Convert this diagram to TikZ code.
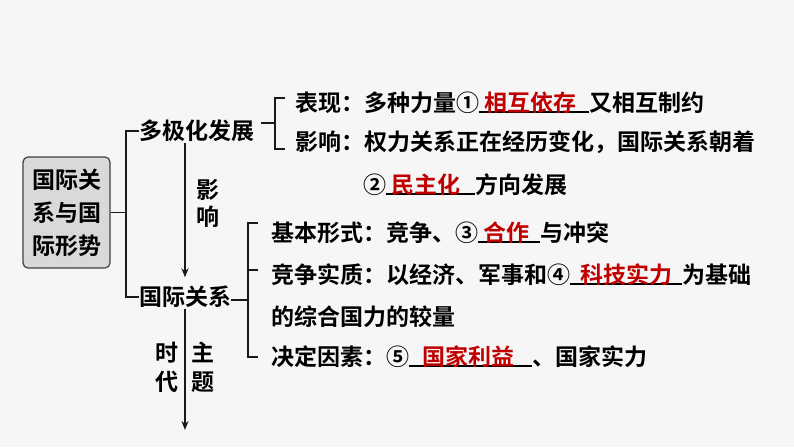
\documentclass[tikz,border=0pt]{standalone}
\usepackage{fontspec}
\usepackage{xcolor}
\usetikzlibrary{arrows.meta, positioning}
\newfontfamily\cjk{Noto Sans CJK SC Bold}
\definecolor{ansred}{RGB}{192,0,0}
\definecolor{bggray}{RGB}{246,246,246}
\definecolor{rootgray}{RGB}{217,217,217}
\newcommand{\blank}[3]{\rlap{\rule[-1pt]{#1pt}{1.2pt}}\makebox[#1pt][l]{\hspace{#2pt}\textcolor{ansred}{#3}}}

\begin{document}
\begin{tikzpicture}[
  x=1pt, y=-1pt,
  font=\cjk\fontsize{23}{28}\selectfont,
  txt/.style={inner sep=0pt, anchor=west, text height=20pt, text depth=3pt},
  vlab/.style={inner sep=0pt, align=center},
  rootbox/.style={draw=black!75, line width=1.2pt, fill=rootgray, rounded corners=5pt, minimum width=87pt, minimum height=111pt, align=center, inner sep=0pt, font=\cjk\fontsize{23}{33}\selectfont},
  brk/.style={line width=1.8pt, draw=black!90},
  arr/.style={brk, -{Stealth[length=9pt,width=7pt]}}
]
  \fill[bggray] (0,0) rectangle (794,447);
  \useasboundingbox (0,0) rectangle (794,447);

  \node[rootbox] (root) at (66.5,212.5) {国际关\\系与国\\际形势};
  \node[txt] (multi) at (139,131) {多极化发展};
  \node[txt] (intl) at (139,297) {国际关系};
  \node[vlab, font=\cjk\fontsize{23}{27}\selectfont] (infl) at (208,203) {影\\响};
  \node[vlab, font=\cjk\fontsize{23}{29}\selectfont] (era) at (167,367) {时\\代};
  \node[vlab, font=\cjk\fontsize{23}{29}\selectfont] (theme) at (203,367) {主\\题};

  \node[txt] (sa) at (295,103) {表现：多种力量①\blank{110}{5}{相互依存}又相互制约};
  \node[txt] (sb) at (295,142) {影响：权力关系正在经历变化，国际关系朝着};
  \node[txt] (sc) at (363,185) {②\blank{89}{5}{民主化}方向发展};

  \node[txt] (ra) at (271,233) {基本形式：竞争、③\blank{62}{5}{合作}与冲突};
  \node[txt] (rb) at (271,275) {竞争实质：以经济、军事和④\blank{112}{10}{科技实力}为基础};
  \node[txt] (rc) at (271,317) {的综合国力的较量};
  \node[txt] (rd) at (271,357) {决定因素：⑤\blank{123}{13}{国家利益}、国家实力};

  \coordinate (k0) at (126,212.5);
  \coordinate (k1) at (275,123);
  \coordinate (k2) at (248,300);
  \coordinate (axis) at (185,0);
  \coordinate (tail) at (185,430);

  \draw[brk] (root.east) -- (k0);
  \draw[brk] (multi.west) -| (k0) |- (intl.west);

  \draw[brk] (multi.east |- k1) ++(7,0) -- (k1);
  \draw[brk] ([shift={(-10,-5)}]sa.west) -| (k1) |- ([shift={(-10,7)}]sb.west);

  \draw[brk] (intl.east |- k2) -- (k2);
  \draw[brk] ([shift={(-13,-10)}]ra.west) -| (k2) |- ([shift={(-13,0)}]rd.west);
  \draw[brk] (k2 |- rb.west) ++(0,-5) -- ++(10,0);

  \draw[arr, shorten >=8pt] (multi.south -| axis) -- (intl.north -| axis);
  \draw[arr] (intl.south -| axis) -- (tail);
\end{tikzpicture}
\end{document}
